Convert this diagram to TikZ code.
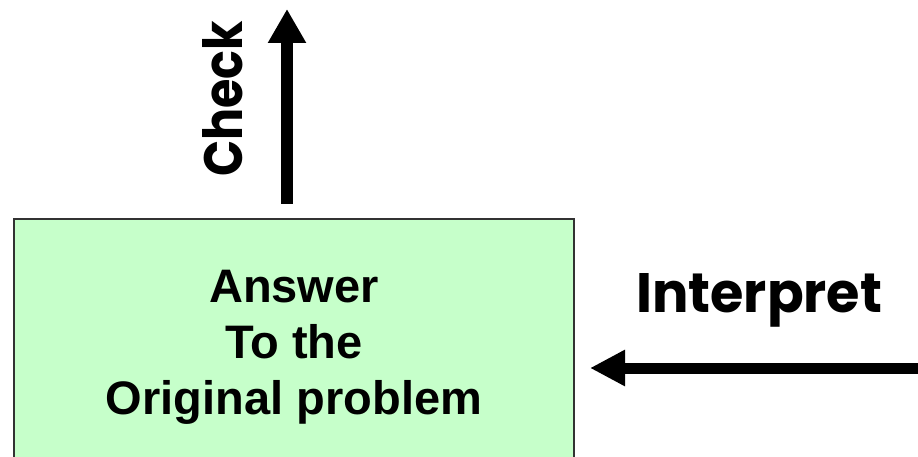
\documentclass[tikz,border=0pt]{standalone}
\usepackage{fontspec}
\setmainfont{Liberation Sans}
\newfontfamily\handfont{Poppins}
\usetikzlibrary{arrows.meta}
\definecolor{boxgreen}{RGB}{198,255,202}
\definecolor{boxline}{RGB}{50,50,50}
\tikzset{
  answerbox/.style={draw=boxline, line width=1.5pt, fill=boxgreen, minimum width=560pt, minimum height=256pt, inner sep=0pt, align=center, font=\bfseries\fontsize{47}{56}\selectfont},
  handlabel/.style={inner sep=0pt, text=black},
  bigarrow/.style={line width=12pt, -{Triangle[length=34pt,width=36pt]}}
}
\begin{document}
\begin{tikzpicture}[x=1pt,y=-1pt]
\useasboundingbox (0,0) rectangle (918,457);
\clip (0,0) rectangle (918,457);
\node[answerbox] (box) at (294,347) {Answer\\To the\\Original problem};
\coordinate (checkstart) at (287,204);
\coordinate (checktip) at (287,9);
\draw[bigarrow] (checkstart) -- (checktip);
\coordinate (interpstart) at (930,368);
\coordinate (interptip) at (590,368);
\draw[bigarrow, line width=11pt, -{Triangle[length=35pt,width=34pt]}] (interpstart) -- (interptip);
\node[handlabel, anchor=base west, rotate=90] (check) at (242,177) {\resizebox{156pt}{40pt}{\handfont\bfseries Check}};
\node[handlabel, anchor=base west] (interpret) at (636,312) {\resizebox{246pt}{39pt}{\handfont\bfseries Interpret}};
\end{tikzpicture}
\end{document}
